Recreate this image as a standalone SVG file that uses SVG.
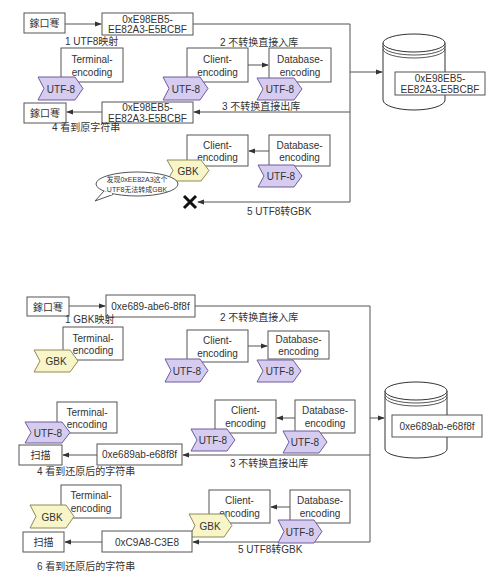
<svg xmlns="http://www.w3.org/2000/svg" width="500" height="584" viewBox="0 0 500 584">
<defs>
<style>
text{font-family:"Liberation Sans","Noto Sans CJK SC",sans-serif;fill:#333;}
.box{fill:#fff;stroke:#555;stroke-width:1;}
.t{font-size:10px;text-anchor:middle;}
.lbl{font-size:10px;}
.purple{fill:#d6ccef;stroke:#6e5c9e;stroke-width:1;}
.yellow{fill:#f8f5c9;stroke:#8f8a55;stroke-width:1;}
.ln{fill:none;stroke:#555;stroke-width:1;}
.cyl{fill:#fff;stroke:#333;stroke-width:1;}
</style>
<marker id="ah" viewBox="0 0 8 8" refX="7" refY="4" markerWidth="7" markerHeight="7" orient="auto" markerUnits="userSpaceOnUse">
<path d="M0,1 L8,4 L0,7 z" fill="#333"/>
</marker>
</defs>
<rect width="500" height="584" fill="#fff"/>

<g id="connectors">
<line class="ln" x1="65" y1="24" x2="101" y2="24" marker-end="url(#ah)"/>
<polyline class="ln" points="193,24 350,24 350,202"/>
<line class="ln" x1="350" y1="72" x2="382" y2="72" marker-end="url(#ah)"/>
<line class="ln" x1="350" y1="112" x2="194" y2="112" marker-end="url(#ah)"/>
<line class="ln" x1="102" y1="112" x2="67" y2="112" marker-end="url(#ah)"/>
<line class="ln" x1="350" y1="202" x2="198" y2="202" marker-end="url(#ah)"/>
<line class="ln" x1="248" y1="65" x2="268" y2="65" marker-end="url(#ah)"/>
<line class="ln" x1="269" y1="151" x2="249" y2="151" marker-end="url(#ah)"/>

<line class="ln" x1="69" y1="306" x2="105" y2="306" marker-end="url(#ah)"/>
<polyline class="ln" points="195,306 370,306 370,542"/>
<line class="ln" x1="370" y1="418" x2="384" y2="418" marker-end="url(#ah)"/>
<line class="ln" x1="370" y1="455" x2="183" y2="455" marker-end="url(#ah)"/>
<line class="ln" x1="97" y1="455" x2="63" y2="455" marker-end="url(#ah)"/>
<line class="ln" x1="248" y1="346" x2="267" y2="346" marker-end="url(#ah)"/>
<line class="ln" x1="295" y1="418" x2="277" y2="418" marker-end="url(#ah)"/>
<line class="ln" x1="290" y1="507" x2="271" y2="507" marker-end="url(#ah)"/>
<line class="ln" x1="370" y1="542" x2="193" y2="542" marker-end="url(#ah)"/>
<line class="ln" x1="102" y1="542" x2="65" y2="542" marker-end="url(#ah)"/>
</g>

<!-- Top section -->
<g id="src1"><rect class="box" x="24" y="13" width="41" height="20"/><text class="t" x="44.5" y="27">鎵口弿</text></g>
<g id="hex1"><rect class="box" x="102" y="13" width="91" height="22"/><text class="t" x="147.5" y="22.5">0xE98EB5-</text><text class="t" x="147.5" y="33">EE82A3-E5BCBF</text></g>
<text class="lbl" x="65" y="45">1 UTF8映射</text>
<text class="lbl" x="220" y="46">2 不转换直接入库</text>

<g id="term1"><rect class="box" x="61" y="48" width="62" height="34"/><text class="t" x="92" y="63">Terminal-</text><text class="t" x="92" y="76">encoding</text>
<path class="purple" d="M38,77 H75 L83,88.5 L75,100 H38 L44,88.5 z"/><text class="t" x="61" y="92.5">UTF-8</text></g>
<g id="client1"><rect class="box" x="187" y="48" width="61" height="34"/><text class="t" x="217.5" y="63">Client-</text><text class="t" x="217.5" y="76">encoding</text>
<path class="purple" d="M163,77 H200 L208,88.5 L200,100 H163 L169,88.5 z"/><text class="t" x="186" y="92.5">UTF-8</text></g>
<g id="db1"><rect class="box" x="269" y="48" width="62" height="34"/><text class="t" x="300" y="63">Database-</text><text class="t" x="300" y="76">encoding</text>
<path class="purple" d="M257,78 H294 L302,89 L294,100 H257 L263,89 z"/><text class="t" x="280" y="93">UTF-8</text></g>

<g id="store1">
<path class="cyl" d="M383,43 V100 A31,10 0 0 0 445,100 V43"/>
<ellipse class="cyl" cx="414" cy="43" rx="31" ry="9"/>
<path class="ln" d="M383,46 A31,9 0 0 0 445,46 M383,49 A31,9 0 0 0 445,49" stroke="#333"/>
<rect class="box" x="395" y="72" width="90" height="23"/><text class="t" x="440" y="82">0xE98EB5-</text><text class="t" x="440" y="93">EE82A3-E5BCBF</text>
</g>

<text class="lbl" x="222" y="110">3 不转换直接出库</text>
<g id="hex2"><rect class="box" x="102" y="102" width="91" height="21"/><text class="t" x="147.5" y="111">0xE98EB5-</text><text class="t" x="147.5" y="121.5">EE82A3-E5BCBF</text></g>
<g id="view1"><rect class="box" x="24" y="103" width="42" height="20"/><text class="t" x="45" y="117">鎵口弿</text></g>
<text class="lbl" x="52" y="131">4 看到原字符串</text>

<g id="client2"><rect class="box" x="187" y="135" width="61" height="31"/><text class="t" x="217.5" y="149">Client-</text><text class="t" x="217.5" y="161">encoding</text>
<path class="yellow" d="M167,160 H201 L209,170.5 L201,181 H167 L173,170.5 z"/><text class="t" x="188" y="174.5">GBK</text></g>
<g id="db2"><rect class="box" x="269" y="135" width="61" height="31"/><text class="t" x="299.5" y="149">Database-</text><text class="t" x="299.5" y="161">encoding</text>
<path class="purple" d="M258,165 H294 L302,176 L294,187 H258 L264,176 z"/><text class="t" x="281" y="180">UTF-8</text></g>

<g id="bubble">
<ellipse cx="137" cy="184" rx="41" ry="12" fill="#fff" stroke="#555"/>
<path d="M104,191 L95,201 L113,194.5" fill="#fff" stroke="#555"/>
<path d="M105.5,192 L112,194" stroke="#fff" stroke-width="2"/>
<text x="137" y="182" style="font-size:7px;text-anchor:middle">发现0xEE82A3这个</text>
<text x="137" y="192" style="font-size:7px;text-anchor:middle">UTF8无法转成GBK</text>
</g>
<g id="fail"><path d="M184,196 L196,208 M196,196 L184,208" stroke="#111" stroke-width="3"/></g>
<text class="lbl" x="247" y="215">5 UTF8转GBK</text>

<!-- Bottom section -->
<g id="src2"><rect class="box" x="27" y="297" width="42" height="19"/><text class="t" x="48" y="310.5">鎵口弿</text></g>
<g id="hex3"><rect class="box" x="106" y="295" width="89" height="22"/><text class="t" x="150.5" y="309.5">0xe689-abe6-8f8f</text></g>
<text class="lbl" x="65" y="323">1 GBK映射</text>
<text class="lbl" x="220" y="321">2 不转换直接入库</text>

<g id="term2"><rect class="box" x="63" y="327" width="60" height="33"/><text class="t" x="93" y="342">Terminal-</text><text class="t" x="93" y="354">encoding</text>
<path class="yellow" d="M34,350 H70 L78,361 L70,372 H34 L40,361 z"/><text class="t" x="56" y="365">GBK</text></g>
<g id="client3"><rect class="box" x="187" y="330" width="61" height="32"/><text class="t" x="217.5" y="344">Client-</text><text class="t" x="217.5" y="357">encoding</text>
<path class="purple" d="M165,359 H200 L208,370.5 L200,382 H165 L171,370.5 z"/><text class="t" x="187" y="374.5">UTF-8</text></g>
<g id="db3"><rect class="box" x="268" y="331" width="61" height="28"/><text class="t" x="298.5" y="343">Database-</text><text class="t" x="298.5" y="355">encoding</text>
<path class="purple" d="M257,360 H293 L301,371 L293,382 H257 L263,371 z"/><text class="t" x="280" y="375">UTF-8</text></g>

<g id="store2">
<path class="cyl" d="M385,391 V449 A31,9 0 0 0 447,449 V391"/>
<ellipse class="cyl" cx="416" cy="391" rx="31" ry="9"/>
<path class="ln" d="M385,394 A31,9 0 0 0 447,394 M385,397 A31,9 0 0 0 447,397" stroke="#333"/>
<rect class="box" x="392" y="415" width="90" height="22"/><text class="t" x="437" y="429.5">0xe689ab-e68f8f</text>
</g>

<g id="term3"><rect class="box" x="57" y="402" width="60" height="31"/><text class="t" x="87" y="416">Terminal-</text><text class="t" x="87" y="428">encoding</text>
<path class="purple" d="M25,422 H62 L70,432.5 L62,443 H25 L31,432.5 z"/><text class="t" x="48" y="436.5">UTF-8</text></g>
<g id="client4"><rect class="box" x="215" y="400" width="61" height="33"/><text class="t" x="245.5" y="414">Client-</text><text class="t" x="245.5" y="427">encoding</text>
<path class="purple" d="M191,429 H227 L235,440 L227,451 H191 L197,440 z"/><text class="t" x="213" y="444">UTF-8</text></g>
<g id="db4"><rect class="box" x="295" y="400" width="60" height="33"/><text class="t" x="325" y="414">Database-</text><text class="t" x="325" y="427">encoding</text>
<path class="purple" d="M283,431 H319 L327,442 L319,453 H283 L289,442 z"/><text class="t" x="305" y="446">UTF-8</text></g>

<g id="hex4"><rect class="box" x="97" y="444" width="85" height="21"/><text class="t" x="139.5" y="458">0xe689ab-e68f8f</text></g>
<g id="view2"><rect class="box" x="19" y="445" width="43" height="20"/><text class="t" x="40.5" y="459">扫描</text></g>
<text class="lbl" x="230" y="467">3 不转换直接出库</text>
<text class="lbl" x="37" y="475">4 看到还原后的字符串</text>

<g id="term4"><rect class="box" x="61" y="485" width="60" height="33"/><text class="t" x="91" y="499">Terminal-</text><text class="t" x="91" y="512">encoding</text>
<path class="yellow" d="M30,505 H66 L74,516.5 L66,528 H30 L36,516.5 z"/><text class="t" x="52" y="520.5">GBK</text></g>
<g id="client5"><rect class="box" x="209" y="490" width="61" height="33"/><text class="t" x="239.5" y="504">Client-</text><text class="t" x="239.5" y="517">encoding</text>
<path class="yellow" d="M189,514 H224 L232,525.5 L224,537 H189 L195,525.5 z"/><text class="t" x="210" y="529.5">GBK</text></g>
<g id="db5"><rect class="box" x="290" y="490" width="60" height="33"/><text class="t" x="320" y="504">Database-</text><text class="t" x="320" y="517">encoding</text>
<path class="purple" d="M278,520 H314 L322,531.5 L314,543 H278 L284,531.5 z"/><text class="t" x="300" y="535.5">UTF-8</text></g>

<g id="hex5"><rect class="box" x="102" y="531" width="90" height="21"/><text class="t" x="147" y="545.5">0xC9A8-C3E8</text></g>
<g id="view3"><rect class="box" x="23" y="532" width="41" height="20"/><text class="t" x="43.5" y="546">扫描</text></g>
<text class="lbl" x="238" y="553">5 UTF8转GBK</text>
<text class="lbl" x="37" y="570">6 看到还原后的字符串</text>
</svg>
